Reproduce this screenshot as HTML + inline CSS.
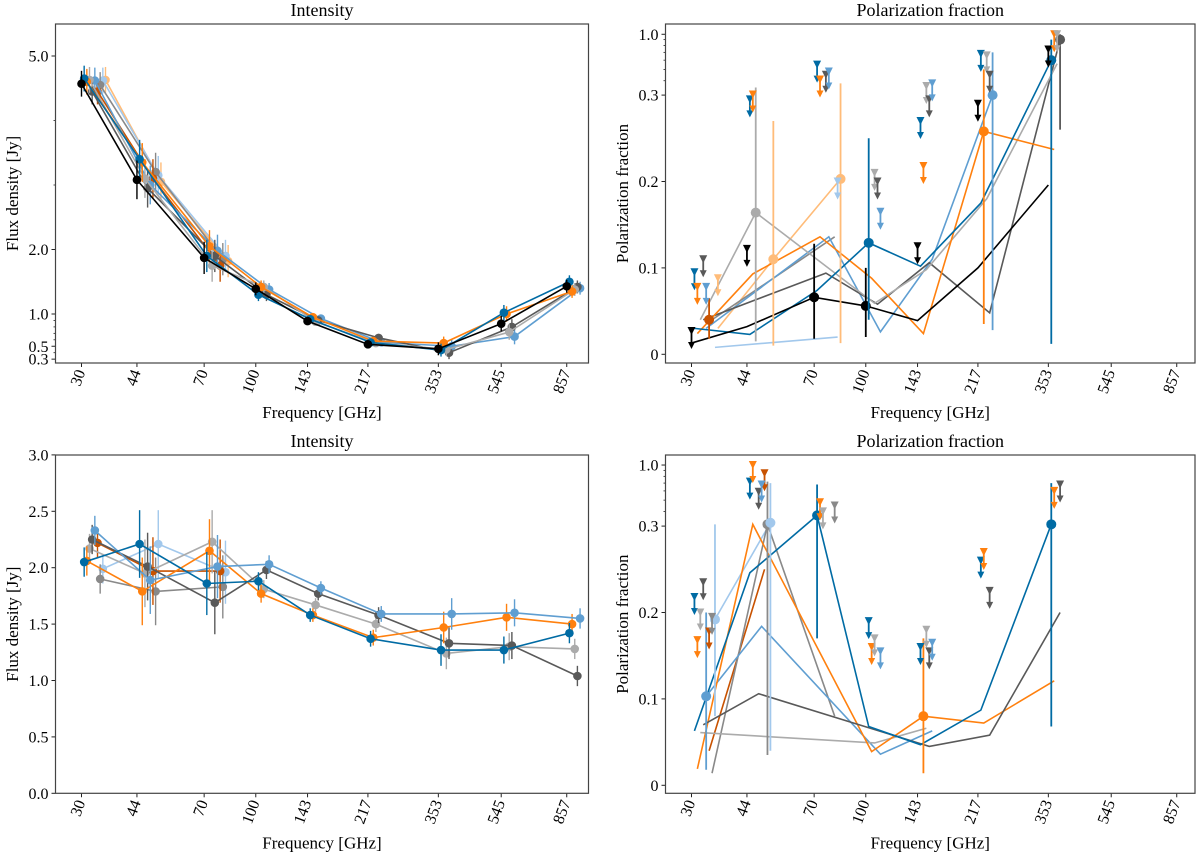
<!DOCTYPE html>
<html><head><meta charset="utf-8"><style>
html,body{margin:0;padding:0;background:#fff}
svg{display:block;font-family:"Liberation Serif","DejaVu Serif",serif}
</style></head><body>
<svg id="fig" width="1200" height="855" viewBox="0 0 1200 855" xmlns="http://www.w3.org/2000/svg"></svg>
<script>
// ---------- data ----------
const FREQS = [30,44,70,100,143,217,353,545,857];
const FREQ_LABELS = ["30","44","70","100","143","217","353","545","857"];
const POL_FREQS = [30,44,70,100,143,217,353];

// Top-left intensity (Jy)
const tlBlack = [4.57,3.08,1.87,1.39,0.89,0.53,0.46,0.85,1.43];
const tlBlue  = [4.65,3.40,1.90,1.30,0.92,0.56,0.44,1.02,1.50];
const tlOrange= [4.60,3.35,2.05,1.42,0.95,0.58,0.55,1.00,1.35];
const tlGray  = [4.63,3.10,1.75,1.42,0.88,0.55,0.45,0.72,1.38];
const tlDark  = [4.45,2.95,1.90,1.30,0.90,0.63,0.40,0.80,1.42];
const tlLBlue = [4.62,3.00,1.98,1.38,0.93,0.56,0.50,0.65,1.40];
const tlRust  = [4.45,3.10,1.75];
const tlMid   = [4.55,3.20,1.85];
const tlPale  = [4.62,3.15,1.90];
const tlPeach = [4.63,3.05,1.82];
const tlErr   = [0.20,0.30,0.25,0.10,0.06,0.05,0.10,0.12,0.10];
const tlYTicks = [0.3,0.5,1.0,2.0,5.0];
const tlYLabels = ["0.3","0.5","1.0","2.0","5.0"];
const tlYMinor = [0.4,0.6,0.7,0.8,0.9,3,4];

// Bottom-left intensity (Jy)
const blBlue  = [2.05,2.21,1.86,1.88,1.58,1.37,1.27,1.27,1.42];
const blOrange= [2.06,1.79,2.15,1.77,1.58,1.38,1.47,1.56,1.50];
const blGray  = [2.17,1.95,2.23,1.81,1.67,1.50,1.24,1.30,1.28];
const blDark  = [2.25,2.01,1.69,1.98,1.77,1.58,1.33,1.31,1.04];
const blLBlue = [2.33,1.89,2.01,2.03,1.82,1.59,1.59,1.60,1.55];
const blRust  = [2.22,1.97,1.97];
const blMid   = [1.90,1.79,1.83];
const blPale  = [1.99,2.21,1.96];
const blErr   = [0.13,0.30,0.28,0.08,0.06,0.07,0.14,0.12,0.09];
const blYTicks = [0,0.5,1,1.5,2,2.5,3];
const blYLabels = ["0.0","0.5","1.0","1.5","2.0","2.5","3.0"];

// Top-right polarization fraction
const trBlack = [0.013,0.032,0.066,0.056,0.039,0.10,0.196];
const trBlue  = [0.030,0.023,0.074,0.129,0.102,0.175,0.60];
const trOrange= [0.024,0.093,0.136,0.088,0.024,0.258,0.237];
const trGray  = [0.040,0.164,null,0.059,0.098,0.18,0.56];
const trDark  = [0.040,null,0.094,0.058,0.106,0.048,0.90];
const trLBlue = [0.030,null,0.136,0.026,0.11,0.30,null];
const trMid   = [0.040,null,0.136];
const trPeach = [0.030,0.110,0.203];
const trPale  = [0.008,null,0.020];
const trMkSeries = ["black","black","blue","blue","orange","gray","dark","lblue","peach","peach","rust"];
const trMkIdx    = [2,3,3,6,5,1,6,5,1,2,0];
const trMkVal    = [0.066,0.056,0.129,0.60,0.258,0.164,0.90,0.30,0.11,0.203,0.04];
const trMkLo     = [0.018,0.020,0.040,0.012,0.035,0.015,0.26,0.028,0.010,0.013,0.018];
const trMkHi     = [0.128,0.100,0.250,0.90,0.50,0.35,1.0,0.70,0.27,0.38,0.065];
const trUlSeries = ["black","black","black","black","black","blue","blue","blue","blue","blue","orange","orange","orange","orange","orange","gray","gray","gray","gray","dark","dark","dark","dark","dark","lblue","lblue","lblue","lblue","peach","pale"];
const trUlIdx    = [0,1,4,5,6, 0,1,2,4,5, 0,1,2,4,6, 3,4,5,6, 0,2,3,4,5, 0,2,3,4, 0,2];
const trUlVal    = [0.027,0.122,0.125,0.29,0.74, 0.095,0.295,0.55,0.27,0.68, 0.078,0.305,0.41,0.218,1.0, 0.21,0.36,0.66,1.0, 0.11,0.45,0.20,0.295,0.45, 0.078,0.48,0.165,0.38, 0.088,0.20];

// Bottom-right polarization fraction
const brBlue  = [0.063,0.246,0.37,0.068,0.047,0.087,0.31];
const brDark  = [0.070,0.106,null,null,0.045,0.058,0.20];
const brOrange= [0.019,0.31,null,0.039,0.080,0.072,0.121];
const brGray  = [0.061,null,null,0.049,0.066];
const brMid   = [0.014,0.31,0.080];
const brLBlue = [0.103,0.184,null,0.036,0.063];
const brPale  = [0.192,0.32];
const brRust  = [0.040,0.25];
const brMkSeries = ["blue","blue","orange","mid","lblue","pale","pale"];
const brMkIdx    = [2,6,4,1,0,0,1];
const brMkVal    = [0.37,0.31,0.080,0.31,0.103,0.192,0.32];
const brMkLo     = [0.17,0.068,0.014,0.035,0.018,0.08,0.04];
const brMkHi     = [0.68,0.70,0.17,0.72,0.20,0.31,0.70];
const brUlSeries = ["blue","blue","blue","blue","blue","dark","dark","dark","dark","dark","orange","orange","orange","orange","orange","orange","gray","gray","gray","gray","rust","rust","lblue","lblue","lblue","mid","mid"];
const brUlIdx    = [0,1,3,4,5, 0,1,4,5,6, 0,1,2,3,5,6, 0,2,3,4, 0,1, 1,3,4, 0,2];
const brUlVal    = [0.218,0.72,0.19,0.16,0.26, 0.235,0.59,0.155,0.225,0.68, 0.168,1.0,0.48,0.16,0.27,0.60, 0.20,0.40,0.17,0.18, 0.178,0.85, 0.68,0.155,0.165, 0.195,0.45];
const polYTicks = [0,0.1,0.2,0.3,1.0];
const polYLabels = ["0","0.1","0.2","0.3","1.0"];
const polYMinor = [0.4,0.5,0.6,0.7,0.8,0.9];

// ---------- style ----------
const COL = {black:"#000000",blue:"#006BA4",orange:"#FF800E",gray:"#ABABAB",dark:"#595959",lblue:"#5F9ED1",rust:"#C85200",mid:"#898989",pale:"#A2C8EC",peach:"#FFBC79"};
const JIT = {black:0,blue:0.008,orange:0.016,gray:0.024,dark:0.032,lblue:0.04,rust:0.048,mid:0.056,pale:0.064,peach:0.072};

const NS="http://www.w3.org/2000/svg";
const svg=document.getElementById('fig');
function mk(tag,attrs,parent){const e=document.createElementNS(NS,tag);for(const k in attrs)e.setAttribute(k,attrs[k]);(parent||svg).appendChild(e);return e;}

function makeXLog(x30){return f=>x30+Math.log10(f/30)*333.3;}
function symY(y0,slope,y03,logSlope){return v=>v<=0.3? y0-v*slope : y03-Math.log10(v/0.3)*logSlope;}

function drawAxes(p){
  const g=mk('g',{});
  
  
  FREQS.forEach((f,i)=>{
    const x=p.fx(f);
    const t=mk('line',{x1:x,x2:x,y1:p.y1,y2:p.y1+4,stroke:'#222','stroke-width':1},g);
    
    
    const tx=mk('text',{x:x+4,y:p.y1+9,'font-size':16,'text-anchor':'end',transform:`rotate(-70 ${x+4} ${p.y1+9})`},g);
    tx.textContent=FREQ_LABELS[i];
    
    
  });
  p.yticks.forEach((v,i)=>{
    const y=p.fy(v);
    const t=mk('line',{x1:p.x0-4,x2:p.x0,y1:y,y2:y,stroke:'#222','stroke-width':1},g);
    
    
    const tx=mk('text',{x:p.x0-7,y:y+5.5,'font-size':16,'text-anchor':'end'},g);
    tx.textContent=p.ylabels[i];
    
    
  });
  (p.yminor||[]).forEach(v=>{
    const y=p.fy(v);
    const t=mk('line',{x1:p.x0-2,x2:p.x0,y1:y,y2:y,stroke:'#222','stroke-width':0.8},g);
    
    
  });
  const ti=mk('text',{x:(p.x0+p.x1)/2,y:p.y0-8,'font-size':18,'text-anchor':'middle'},g);
  ti.textContent=p.title;
  
  
  const xl=mk('text',{x:(p.x0+p.x1)/2,y:p.y1+55,'font-size':17,'text-anchor':'middle'},g);
  xl.textContent='Frequency [GHz]';
  
  
  const cy=(p.y0+p.y1)/2;
  const yl=mk('text',{x:p.ylx,y:cy,'font-size':17,'text-anchor':'middle',transform:`rotate(-90 ${p.ylx} ${cy})`},g);
  yl.textContent=p.ylabel;
  
  
}
function drawFrame(p){
  const r=mk('rect',{x:p.x0,y:p.y0,width:p.x1-p.x0,height:p.y1-p.y0,fill:'none',stroke:'#444','stroke-width':1.2});
  
  
}
function clipFor(p){
  const id='clip-'+p.name;
  const c=mk('clipPath',{id:id});
  mk('rect',{x:p.x0,y:p.y0,width:p.x1-p.x0,height:p.y1-p.y0},c);
  const g=mk('g',{'clip-path':`url(#${id})`});
  
  
  return g;
}

function intensityPanel(p,series,err){
  drawAxes(p);
  const g=clipFor(p);
  series.forEach(s=>{
    const pts=s.vals.map((v,i)=>[p.fx(FREQS[i]*Math.pow(10,JIT[s.c])),p.fy(v)]);
    const l=mk('polyline',{points:pts.map(q=>q.join(',')).join(' '),fill:'none',stroke:COL[s.c],'stroke-width':1.6},g);
    
    
    s.vals.forEach((v,i)=>{
      const x=pts[i][0];
      const e=mk('line',{x1:x,x2:x,y1:p.fy(v-err[i]),y2:p.fy(v+err[i]),stroke:COL[s.c],'stroke-width':1.4},g);
      
      
      const m=mk('circle',{cx:x,cy:pts[i][1],r:4.3,fill:COL[s.c]},g);
      
      
    });
  });
  drawFrame(p);
}

function polPanel(p,series,mk_s,mk_i,mk_v,mk_lo,mk_hi,ul_s,ul_i,ul_v){
  drawAxes(p);
  const g=clipFor(p);
  const X=(c,i)=>p.fx(POL_FREQS[i]*Math.pow(10,JIT[c]*1.1));
  series.forEach(s=>{
    const pts=[];
    s.vals.forEach((v,i)=>{if(v!==null)pts.push([X(s.c,i),p.fy(v)]);});
    const l=mk('polyline',{points:pts.map(q=>q.join(',')).join(' '),fill:'none',stroke:COL[s.c],'stroke-width':1.6},g);
    
    
  });
  mk_s.forEach((c,k)=>{
    const x=X(c,mk_i[k]);
    const e=mk('line',{x1:x,x2:x,y1:p.fy(mk_lo[k]),y2:p.fy(mk_hi[k]),stroke:COL[c],'stroke-width':1.8},g);
    
    
    const m=mk('circle',{cx:x,cy:p.fy(mk_v[k]),r:5,fill:COL[c]},g);
    
    
  });
  ul_s.forEach((c,k)=>{
    const x=X(c,ul_i[k]);
    const y=p.fy(ul_v[k]);
    const a=mk('g',{fill:COL[c],stroke:COL[c]},g);
    
    
    mk('polygon',{points:`${x-4},${y-4} ${x+4},${y-4} ${x},${y+4}`,stroke:'none'},a);
    mk('line',{x1:x,x2:x,y1:y,y2:y+16,'stroke-width':1.8},a);
    mk('polygon',{points:`${x-3.5},${y+11} ${x+3.5},${y+11} ${x},${y+18}`,stroke:'none'},a);
  });
  drawFrame(p);
}

// ---------- panels ----------
const TL={name:'top-left',x0:55.5,x1:588.5,y0:24,y1:363,fx:makeXLog(81.5),fy:v=>378.5-v*64.5,yticks:tlYTicks,ylabels:tlYLabels,yminor:tlYMinor,title:'Intensity',ylabel:'Flux density [Jy]',ylx:18};
const BL={name:'bottom-left',x0:55.5,x1:588.5,y0:455,y1:793.3,fx:makeXLog(81.5),fy:v=>793.3-v*112.8,yticks:blYTicks,ylabels:blYLabels,title:'Intensity',ylabel:'Flux density [Jy]',ylx:18};
const TR={name:'top-right',x0:665.5,x1:1195,y0:24,y1:363,fx:makeXLog(691.5),fy:symY(354.3,864,95.3,116.7),yticks:polYTicks,ylabels:polYLabels,yminor:polYMinor,title:'Polarization fraction',ylabel:'Polarization fraction',ylx:628};
const BR={name:'bottom-right',x0:665.5,x1:1195,y0:455,y1:793.3,fx:makeXLog(691.5),fy:symY(785.3,864,526,116.6),yticks:polYTicks,ylabels:polYLabels,yminor:polYMinor,title:'Polarization fraction',ylabel:'Polarization fraction',ylx:628};

intensityPanel(TL,[
  {c:'peach',vals:tlPeach},{c:'pale',vals:tlPale},{c:'mid',vals:tlMid},{c:'rust',vals:tlRust},
  {c:'lblue',vals:tlLBlue},{c:'dark',vals:tlDark},{c:'gray',vals:tlGray},{c:'orange',vals:tlOrange},
  {c:'blue',vals:tlBlue},{c:'black',vals:tlBlack}],tlErr);
intensityPanel(BL,[
  {c:'pale',vals:blPale},{c:'mid',vals:blMid},{c:'rust',vals:blRust},{c:'gray',vals:blGray},
  {c:'dark',vals:blDark},{c:'orange',vals:blOrange},{c:'lblue',vals:blLBlue},{c:'blue',vals:blBlue}],blErr);
polPanel(TR,[
  {c:'pale',vals:trPale},{c:'peach',vals:trPeach},{c:'mid',vals:trMid},{c:'lblue',vals:trLBlue},
  {c:'dark',vals:trDark},{c:'gray',vals:trGray},{c:'orange',vals:trOrange},{c:'blue',vals:trBlue},{c:'black',vals:trBlack}],
  trMkSeries,trMkIdx,trMkVal,trMkLo,trMkHi,trUlSeries,trUlIdx,trUlVal);
polPanel(BR,[
  {c:'pale',vals:brPale},{c:'rust',vals:brRust},{c:'mid',vals:brMid},{c:'lblue',vals:brLBlue},
  {c:'gray',vals:brGray},{c:'orange',vals:brOrange},{c:'dark',vals:brDark},{c:'blue',vals:brBlue}],
  brMkSeries,brMkIdx,brMkVal,brMkLo,brMkHi,brUlSeries,brUlIdx,brUlVal);
</script>
</body></html>
